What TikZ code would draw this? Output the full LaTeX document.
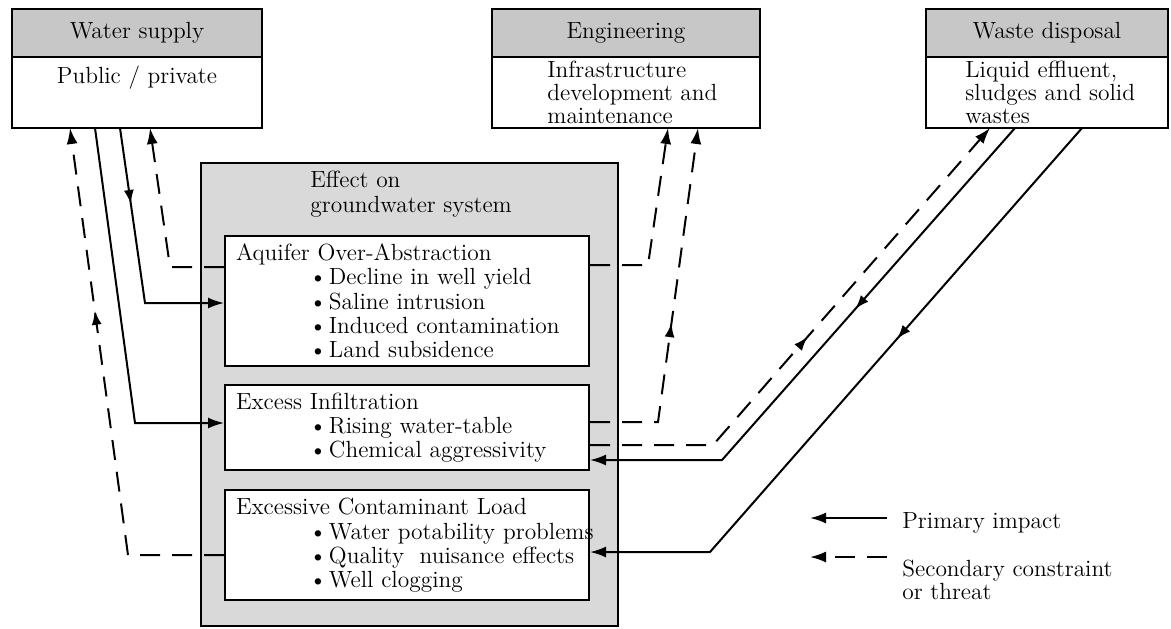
\documentclass[tikz,border=0pt]{standalone}
\usetikzlibrary{arrows.meta,positioning,decorations.markings}

\tikzset{hdr/.style={draw,line width=1pt,fill=black!22,minimum height=24pt,inner sep=0pt,outer sep=0pt},
         lowbox/.style={draw,line width=1pt,fill=white,minimum height=35.5pt,inner sep=0pt,outer sep=0pt},
         effbox/.style={draw,line width=1pt,fill=white,align=left,text width=171pt,inner xsep=5.5pt,inner ysep=4pt},
         pri/.style={line width=1pt,-{Latex[length=8pt,width=5.5pt]}},
         sec/.style={pri,dash pattern=on 10pt off 6pt},
         mid/.style={postaction={decorate,decoration={markings,mark=at position #1 with {\arrow{Latex[length=7pt,width=5pt]}}}}}}
\newcommand{\itm}[1]{\\\hspace*{36.5pt}\makebox[10pt][l]{\textbullet}\mbox{#1}}

\begin{document}
\begin{tikzpicture}[x=0.5pt,y=-0.5pt]
                  \tikzstyle{every node}=[font={\fontsize{11.7}{12.1}\selectfont}]
                  \useasboundingbox (0,0) rectangle (1171,628);
                  % top boxes
                  \node[hdr,minimum width=125pt,anchor=north west] (wsh) at (12,9) {Water supply};
                  \node[lowbox,minimum width=125pt,below=0pt of wsh] (wsb) {};
                  \node[anchor=north,inner ysep=4.5pt] (wst) at (wsb.north) {Public / private};
                  \node[hdr,minimum width=134pt,anchor=north west] (engh) at (492,9) {Engineering};
                  \node[lowbox,minimum width=134pt,below=0pt of engh] (engb) {};
                  \node[anchor=north west,align=left,inner sep=0pt,font={\fontsize{11.7}{11.5}\selectfont}] (engt) at ([xshift=27.5pt,yshift=-2pt]engb.north west) {Infrastructure\\development and\\maintenance};
                  \node[hdr,minimum width=121pt,anchor=north west] (wdh) at (926,9) {Waste disposal};
                  \node[lowbox,minimum width=121pt,below=0pt of wdh] (wdb) {};
                  \node[anchor=north west,align=left,inner sep=0pt,font={\fontsize{11.7}{11.5}\selectfont}] (wdt) at ([xshift=19.5pt,yshift=-2pt]wdb.north west) {Liquid effluent,\\sludges and solid\\wastes};
                  % groundwater system
                  \node[draw,line width=1pt,fill=black!15,minimum width=208.5pt,minimum height=231.5pt,anchor=north west,inner sep=0pt] (eff) at (200,162) {};
                  \node[anchor=north west,align=left,inner sep=0pt] (efft) at (310,171) {Effect on\\groundwater system};
                  \node[effbox,anchor=north west] (aqu) at (224,235) {Aquifer Over-Abstraction\itm{Decline in well yield}\itm{Saline intrusion}\itm{Induced contamination}\itm{Land subsidence}};
                  \node[effbox,below=8.5pt of aqu] (inf) {Excess Infiltration\itm{Rising water-table}\itm{Chemical aggressivity}};
                  \node[effbox,below=9pt of inf] (con) {Excessive Contaminant Load\itm{Water potability problems}\itm{Quality \ nuisance effects}\itm{Well clogging}};
                  % ends and bends
                  \coordinate (t1) at (70,0); \coordinate (t2) at (95,0); \coordinate (t3) at (120,0); \coordinate (t4) at (150,0);
                  \coordinate (k1) at (128,555); \coordinate (k2) at (135,423); \coordinate (k3) at (145,303); \coordinate (k4) at (170,267);
                  \coordinate (t5) at (668,0); \coordinate (t6) at (698,0);
                  \coordinate (k5) at (648,265); \coordinate (k6) at (658,422);
                  \coordinate (t7) at (990,0); \coordinate (t8) at (1015,0); \coordinate (t9) at (1082,0);
                  \coordinate (k7) at (713,445); \coordinate (k8) at (722,460); \coordinate (k9) at (710,552);
                  % connectors
                  \draw[sec,mid=0.65] (con.west |- k1) -- (k1) -- (wsb.south -| t1);
                  \draw[pri] (wsb.south -| t2) -- (k2) -- (inf.west |- k2);
                  \draw[pri,mid=0.3] (wsb.south -| t3) -- (k3) -- (aqu.west |- k3);
                  \draw[sec] (aqu.west |- k4) -- (k4) -- (wsb.south -| t4);
                  \draw[sec] (aqu.east |- k5) -- (k5) -- (engb.south -| t5);
                  \draw[sec,mid=0.46] (inf.east |- k6) -- (k6) -- (engb.south -| t6);
                  \draw[sec,mid=0.49] (inf.east |- k7) -- (k7) -- (wdb.south -| t7);
                  \draw[pri,mid=0.42] (wdb.south -| t8) -- (k8) -- (inf.east |- k8);
                  \draw[pri,mid=0.41] (wdb.south -| t9) -- (k9) -- (con.east |- k9);
                  % legend
                  \coordinate (l1) at (810,518); \coordinate (l2) at (810,557);
                  \node[anchor=base west,inner xsep=7.5pt] (prim) at (887,528) {Primary impact};
                  \draw[pri] (prim.west |- l1) -- (l1);
                  \node[anchor=north west,align=left,inner xsep=7.5pt,inner ysep=0pt,font={\fontsize{11.7}{10.5}\selectfont}] (secn) at (887,560) {Secondary constraint\\or threat};
                  \draw[sec] (secn.west |- l2) -- (l2);
              \end{tikzpicture}
\end{document}
